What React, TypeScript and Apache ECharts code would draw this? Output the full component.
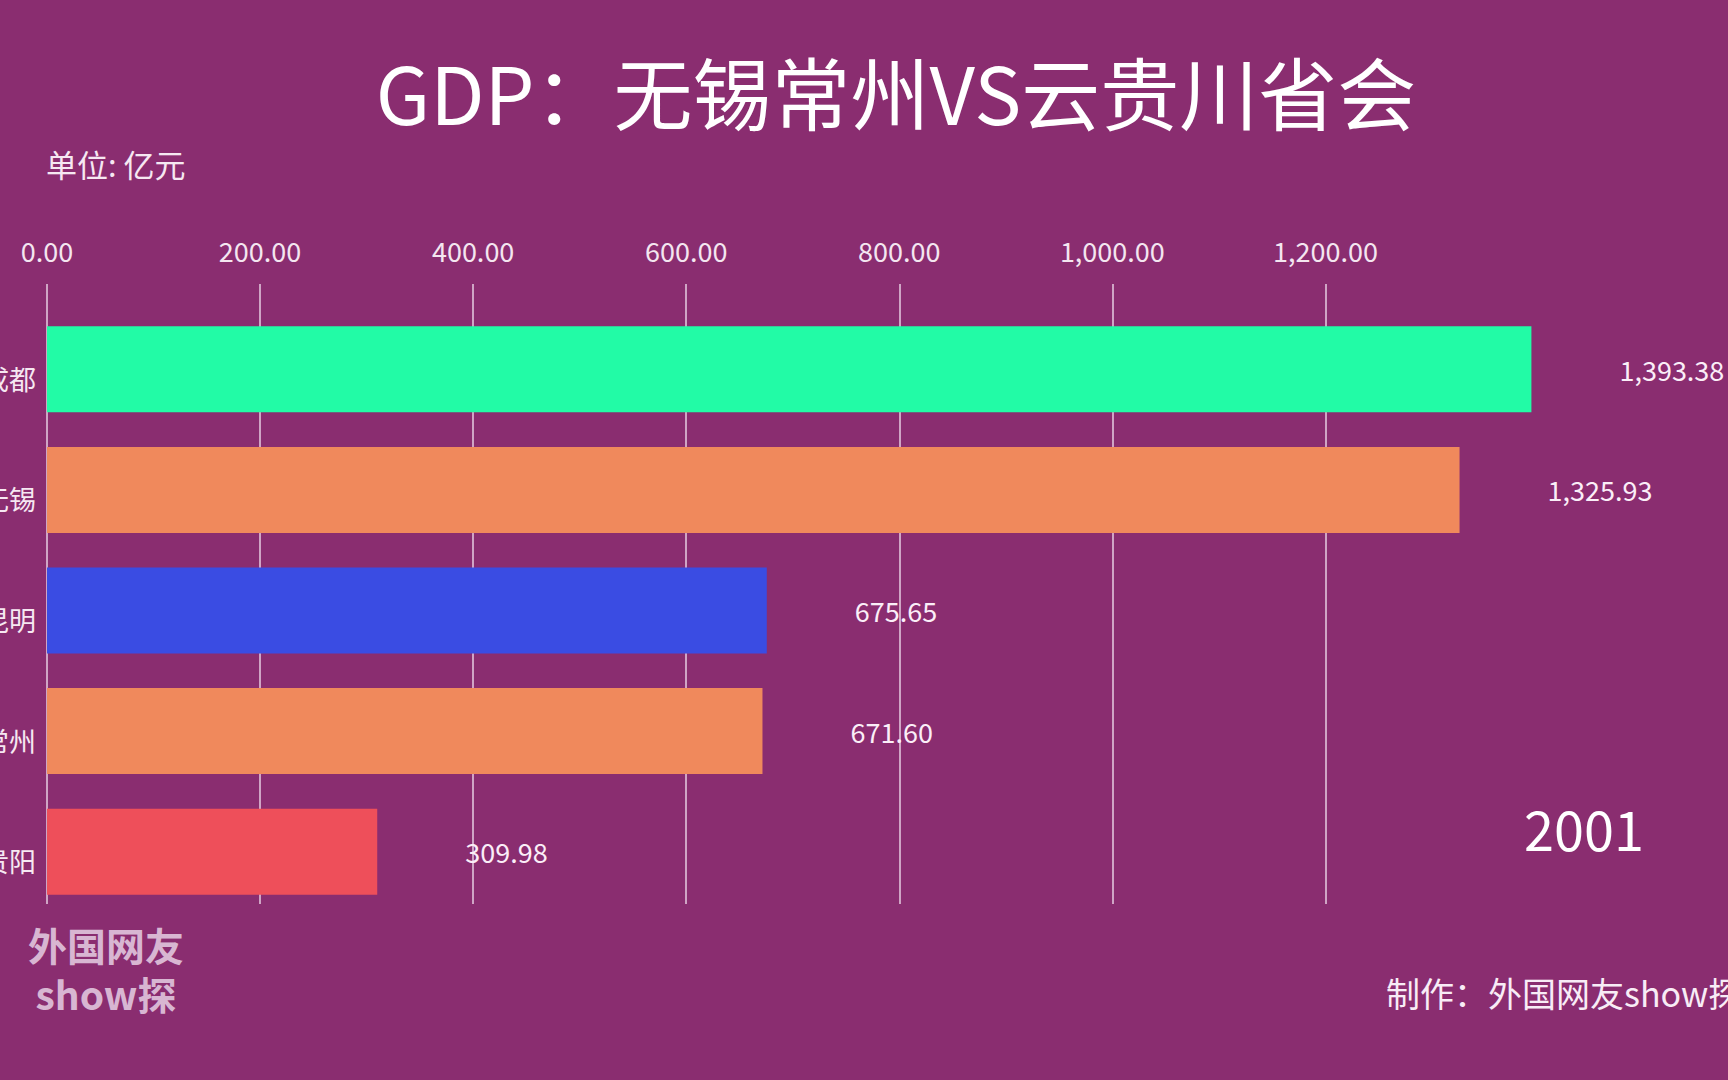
import React, { useEffect, useRef } from "react";
import * as echarts from "echarts";

const cities = ["成都", "无锡", "昆明", "常州", "贵阳"];
const gdp = [1393.38, 1325.93, 675.65, 671.6, 309.98];
const barColors = ["#22fba6", "#f0895c", "#3a4ce3", "#f0895c", "#ee4f5a"];
const axisMax = 1200;
const axisInterval = 200;
const year = "2001";
const titleText = "GDP：无锡常州VS云贵川省会";
const unitText = "单位: 亿元";
const creditText = "制作：外国网友show探";
const watermark1 = "外国网友";
const watermark2 = "show探";

const FONT = "'Noto Sans CJK SC', 'Noto Sans', sans-serif";
const fmt = (v: number) =>
  v.toLocaleString("en-US", { minimumFractionDigits: 2, maximumFractionDigits: 2 });

export default function App() {
  const ref = useRef<HTMLDivElement>(null);
  useEffect(() => {
    if (!ref.current) return;
    const chart = echarts.init(ref.current, undefined, { renderer: "svg" });
    const k = 1278.4 / 1200; // px per unit
    const left = 47;
    chart.setOption({
      animation: false,
      backgroundColor: "#8a2d70",
      textStyle: { fontFamily: FONT },
      title: {
        text: titleText,
        left: 891,
        top: 46,
        textAlign: "center",
        textStyle: { color: "#ffffff", fontSize: 79, fontWeight: "normal", fontFamily: FONT },
      },
      grid: [
        { left, top: 284, width: axisMax * k, height: 620, containLabel: false, outerBoundsMode: "none" },
        { left, top: 309, width: 1400 * k, height: 603, containLabel: false, outerBoundsMode: "none" },
      ],
      xAxis: [
        {
          gridIndex: 0,
          type: "value",
          position: "top",
          min: 0,
          max: axisMax,
          interval: axisInterval,
          axisLine: { show: false },
          axisTick: { show: false },
          axisLabel: {
            color: "#f4e6f0",
            fontSize: 27,
            margin: 20,
            fontFamily: FONT,
            formatter: (v: number) => fmt(v),
          },
          splitLine: { show: true, lineStyle: { color: "rgba(230,205,225,0.75)", width: 2 } },
        },
        {
          gridIndex: 1,
          type: "value",
          min: 0,
          max: 1400,
          show: false,
          splitLine: { show: false },
        },
      ],
      yAxis: [
        { gridIndex: 0, type: "category", data: cities, show: false },
        {
          gridIndex: 1,
          type: "category",
          data: cities,
          inverse: true,
          axisLine: { show: false },
          axisTick: { show: false },
          axisLabel: {
            color: "#f6e8f2",
            fontSize: 27,
            margin: 11,
            fontFamily: FONT,
            verticalAlign: "top",
            lineHeight: 18,
          },
        },
      ],
      series: [
        {
          type: "bar",
          xAxisIndex: 1,
          yAxisIndex: 1,
          barWidth: 86,
          data: gdp.map((v, i) => ({ value: v, itemStyle: { color: barColors[i] } })),
          label: {
            show: true,
            position: "right",
            distance: 88,
            color: "#fbeef8",
            fontSize: 27,
            fontFamily: FONT,
            formatter: (p: any) => fmt(p.value),
          },
        },
      ],
      graphic: [
        {
          type: "text",
          left: 46,
          top: 148,
          style: { text: unitText, fill: "#f6e8f2", fontSize: 31, fontFamily: FONT },
        },
        {
          type: "text",
          left: 1524,
          top: 800,
          style: { text: year, fill: "#ffffff", fontSize: 54, fontFamily: FONT },
        },
        {
          type: "text",
          left: 1386,
          top: 975,
          style: { text: creditText, fill: "#f8ecf6", fontSize: 34, fontFamily: FONT },
        },
        {
          type: "text",
          x: 106,
          y: 944,
          style: {
            text: watermark1,
            fill: "#d8b6d2",
            fontSize: 39,
            lineHeight: 44,
            fontWeight: "bold",
            fontFamily: FONT,
            align: "center",
            verticalAlign: "middle",
          },
        },
        {
          type: "text",
          x: 106,
          y: 993,
          style: {
            text: watermark2,
            fill: "#d8b6d2",
            fontSize: 39,
            lineHeight: 44,
            fontWeight: "bold",
            fontFamily: FONT,
            align: "center",
            verticalAlign: "middle",
          },
        },
      ],
    });
    return () => chart.dispose();
  }, []);
  return (
    <div
      ref={ref}
      style={{ position: "fixed", left: 0, top: 0, width: 1728, height: 1080 }}
    />
  );
}
